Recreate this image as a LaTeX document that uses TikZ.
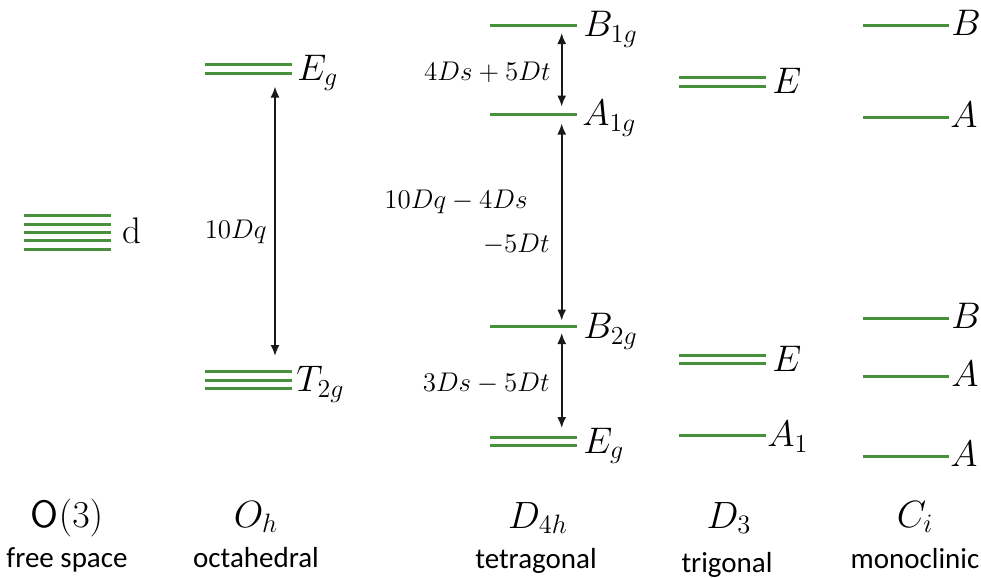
\RequirePackage{fix-cm}
\documentclass[tikz,border=0pt]{standalone}
\usepackage{fontspec}
\setsansfont{Carlito}
\newfontfamily\lmsf{lmsans10-regular.otf}
\usetikzlibrary{arrows.meta}
\definecolor{lev}{RGB}{70,145,58}
\begin{document}
\begin{tikzpicture}[x=0.5pt,y=-0.5pt,
  lvl/.style={draw=lev,line width=1.5pt},
  gaparrow/.style={{Latex[length=5.5pt,width=4.5pt]}-{Latex[length=5.5pt,width=4.5pt]}, line width=0.9pt, black!90},
  lab/.style={anchor=base west, inner sep=0pt, font=\fontsize{18.5}{22}\selectfont},
  ann/.style={anchor=base east, inner sep=0pt, font=\fontsize{13.5}{16}\selectfont},
  grp/.style={anchor=base, inner sep=0pt, font=\fontsize{19}{22}\selectfont},
  nam/.style={anchor=base, inner sep=0pt, font=\sffamily\fontsize{14.5}{16}\selectfont}]
\useasboundingbox (0,0) rectangle (981,578);

% free space
\foreach \k in {0,...,4} \draw[lvl] (24,{215.7+8.4*\k}) -- (111,{215.7+8.4*\k});
\node[lab] (dlab) at (122,243.5) {d};

% octahedral
\foreach \yy in {64.3,73} \draw[lvl] (205,\yy) -- (292,\yy);
\foreach \yy in {371.7,380,388.3} \draw[lvl] (205,\yy) -- (292,\yy);
\node[lab] (ohEg) at (297,80) {$E_g$};
\node[lab] (ohT) at (296,391.5) {$T_{2g}$};
\coordinate (ohA) at (275,86.5);
\coordinate (ohB) at (275,356);
\draw[gaparrow] (ohA) -- (ohB);
\node[ann] (tenDq) at (267,238) {$10Dq$};

% tetragonal
\foreach \yy in {25,114.3,326.7,437.3,445.7} \draw[lvl] (490,\yy) -- (577,\yy);
\node[lab] (tB1) at (583,36.5) {$B_{1g}$};
\node[lab] (tA1) at (582,125.5) {$A_{1g}$};
\node[lab] (tB2) at (583,338.5) {$B_{2g}$};
\node[lab] (tEg) at (583,453) {$E_g$};
\coordinate (a1) at (561.7,33);
\coordinate (a2) at (561.7,106.5);
\coordinate (a3) at (561.7,123.5);
\coordinate (a4) at (561.7,320.5);
\coordinate (a5) at (561.7,333);
\coordinate (a6) at (561.7,428);
\draw[gaparrow] (a1) -- (a2);
\draw[gaparrow] (a3) -- (a4);
\draw[gaparrow] (a5) -- (a6);
\node[ann] (g1) at (551,80) {$4Ds+5Dt$};
\node[ann] (g2a) at (528,208) {$10Dq-4Ds$};
\node[ann] (g2b) at (550,252) {$-5Dt$};
\node[ann] (g3) at (550,391.7) {$3Ds-5Dt$};

% trigonal
\foreach \yy in {77.7,86,355.3,363.7,435} \draw[lvl] (679,\yy) -- (766,\yy);
\node[lab] (trE1) at (772,93.5) {$E$};
\node[lab] (trE2) at (772,371) {$E$};
\node[lab] (trA) at (767,446.5) {$A_1$};

% monoclinic
\foreach \yy in {25,117.3,318.3,376,456} \draw[lvl] (863,\yy) -- (949,\yy);
\node[lab] (mB1) at (951,35.5) {$B$};
\node[lab] (mA1) at (950,127.8) {$A$};
\node[lab] (mB2) at (951,328.8) {$B$};
\node[lab] (mA2) at (951,386.5) {$A$};
\node[lab] (mA3) at (950,466.5) {$A$};

% group labels
\node[grp] (gO3) at (67,527) {{\lmsf O}$(3)$};
\node[grp] (gOh) at (256,527) {$O_h$};
\node[grp] (gD4h) at (538,528) {$D_{4h}$};
\node[grp] (gD3) at (729,528) {$D_3$};
\node[grp] (gCi) at (915,527) {$C_i$};
\node[nam] (n1) at (67,567) {free space};
\node[nam] (n2) at (256,567) {octahedral};
\node[nam] (n3) at (536,568) {tetragonal};
\node[nam] (n4) at (727,572) {trigonal};
\node[nam] (n5) at (915,568) {monoclinic};
\end{tikzpicture}
\end{document}
